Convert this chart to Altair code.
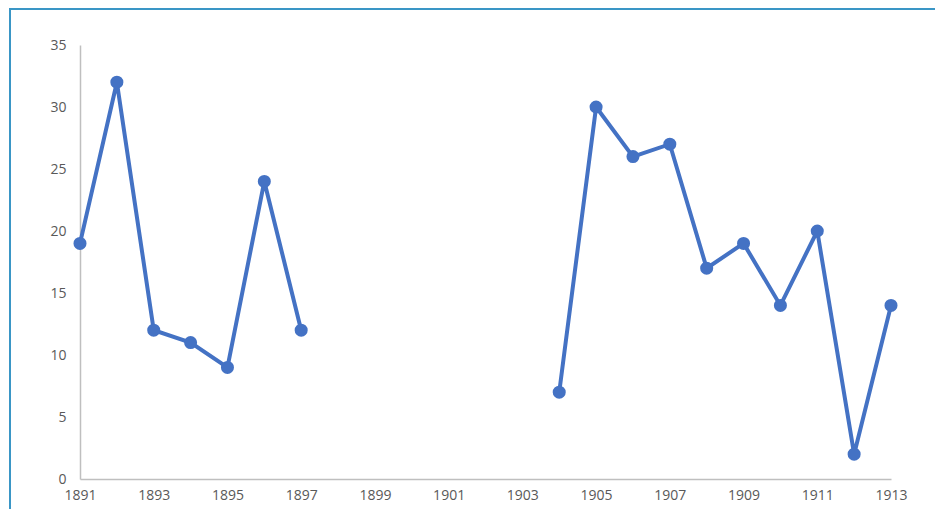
import altair as alt
import pandas as pd

years = list(range(1891, 1914))
values = [19, 32, 12, 11, 9, 24, 12, None, None, None, None, None, None,
          7, 30, 26, 27, 17, 19, 14, 20, 2, 14]
x_ticks = list(range(1891, 1914, 2))
y_ticks = [0, 5, 10, 15, 20, 25, 30, 35]

df = pd.DataFrame({"year": years, "value": values})

font = "Open Sans"
blue = "#4472C4"

x = alt.X("year:Q", scale=alt.Scale(domain=[1891, 1913], nice=False, zero=False),
          axis=alt.Axis(values=x_ticks, format="d", title=None, grid=False, ticks=False,
                        domainColor="#BFBFBF", domainWidth=1.5, labelPadding=9,
                        labelFlush=False, labelOverlap=False,
                        labelColor="#595959", labelFont=font, labelFontSize=14))
y = alt.Y("value:Q", scale=alt.Scale(domain=[0, 35], nice=False),
          axis=alt.Axis(values=y_ticks, title=None, grid=False, ticks=False,
                        domainColor="#BFBFBF", domainWidth=1.5, labelPadding=14,
                        labelColor="#595959", labelFont=font, labelFontSize=14))

line = alt.Chart(df).mark_line(color=blue, strokeWidth=4).encode(x=x, y=y)
pts = alt.Chart(df).mark_circle(color=blue, size=170, opacity=1).encode(x=x, y=y)

frame = alt.Chart(pd.DataFrame({"a": [0]})).mark_rect(
    fill=None, stroke="#3A96C6", strokeWidth=2
).encode(x=alt.value(-70), x2=alt.value(1000), y=alt.value(-36), y2=alt.value(600))

chart = alt.layer(frame, line, pts).properties(
    width=811, height=434,
    autosize=alt.AutoSizeParams(type="none"),
    padding={"left": 72, "top": 37, "right": 44, "bottom": 30},
).configure_view(stroke=None)

chart.save("out.html", embed_options={"renderer": "svg", "actions": False})
